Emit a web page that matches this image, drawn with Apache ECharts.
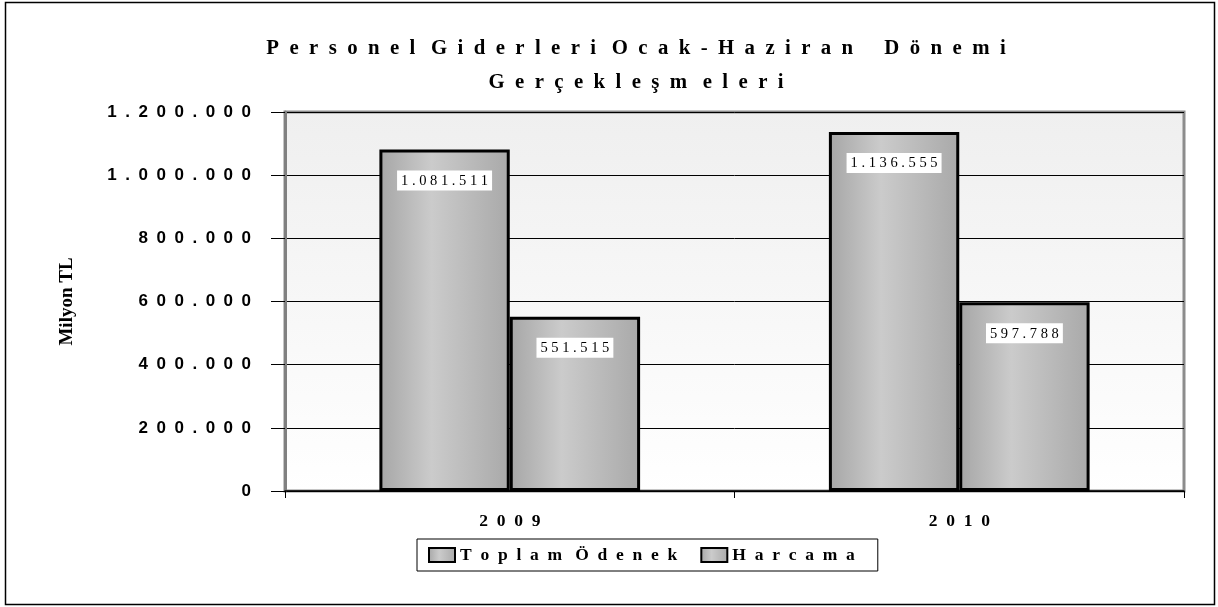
<!DOCTYPE html>
<html lang="tr">
<head>
    <meta charset="UTF-8">
    <title>Personel Giderleri</title>
    <script src="https://cdn.jsdelivr.net/npm/echarts@6/dist/echarts.min.js"></script>
</head>
<body style="margin:0; background:#fff">
<div id="main" style="width:1218px;height:607px"></div>
<script>
    // veriler
    const years = ['2009', '2010']
    const toplamOdenek = [1081511, 1136555]
    const harcama = [551515, 597788]
    const seriesNames = ['Toplam Ödenek', 'Harcama']
    const titleLines = ['Personel Giderleri Ocak-Haziran  Dönemi', 'Gerçekleşm eleri']

    // harfler arası boşluk (orijinaldeki gibi)
    function sp(s, gap, wordGap) {
        gap = gap || '\u2002'
        wordGap = wordGap === undefined ? gap + ' ' : wordGap
        return s.split(' ').map(w => w.split('').join(gap)).join(wordGap)
    }
    function trNum(v) {
        return String(v).replace(/\B(?=(\d{3})+(?!\d))/g, '.')
    }

    const serif = '"Liberation Serif", "Times New Roman", serif'
    const sans = '"Liberation Sans", Arial, sans-serif'

    const barFill = {
        type: 'linear', x: 0, y: 0, x2: 1, y2: 0,
        colorStops: [
            { offset: 0, color: '#a6a6a6' },
            { offset: 0.4, color: '#cbcbcb' },
            { offset: 1, color: '#a9a9a9' }
        ]
    }

    function makeSeries(name, data) {
        return {
            name: name,
            type: 'bar',
            data: data,
            barGap: '0%',
            barCategoryGap: '42%',
            itemStyle: { color: barFill, borderColor: '#000', borderWidth: 3 },
            label: {
                show: true,
                position: 'insideTop',
                distance: 21,
                formatter: p => sp(trNum(p.value), ' '),
                fontFamily: serif,
                fontSize: 14.5,
                color: '#000',
                backgroundColor: '#fff',
                padding: [3, 4, 2, 4]
            }
        }
    }

    let chart = echarts.init(document.getElementById('main'))
    chart.setOption({
        animation: false,
        backgroundColor: '#fff',
        title: {
            text: titleLines.map(t => sp(t, '\u2002', '\u2002 ')).join('\n'),
            left: 631,
            textAlign: 'center',
            top: 27,
            textStyle: {
                fontFamily: serif,
                fontWeight: 'bold',
                fontSize: 20.8,
                lineHeight: 34,
                color: '#000'
            }
        },
        legend: {
            bottom: 36,
            left: 417,
            icon: 'rect',
            itemWidth: 26,
            itemHeight: 14,
            itemGap: 23,
            padding: [7, 23, 7, 11],
            borderColor: '#000',
            borderWidth: 1,
            formatter: n => sp(n),
            textStyle: {
                fontFamily: serif,
                fontWeight: 'bold',
                fontSize: 17.5,
                color: '#000'
            },
            itemStyle: { borderColor: '#000', borderWidth: 2 }
        },
        graphic: [{
            type: 'rect',
            shape: { x: 5.5, y: 2.5, width: 1209, height: 602 },
            style: { fill: 'none', stroke: '#000', lineWidth: 1.5 },
            silent: true
        }],
        grid: {
            left: 285,
            right: 34,
            top: 112,
            bottom: 116,
            show: true,
            borderColor: '#8c8c8c',
            borderWidth: 3,
            backgroundColor: {
                type: 'linear', x: 0, y: 0, x2: 0, y2: 1,
                colorStops: [
                    { offset: 0, color: '#efefef' },
                    { offset: 1, color: '#ffffff' }
                ]
            }
        },
        xAxis: {
            type: 'category',
            data: years,
            axisLine: { lineStyle: { color: '#000', width: 1.5 } },
            axisTick: { show: true, length: 7, lineStyle: { color: '#000' } },
            axisLabel: {
                margin: 21,
                formatter: v => sp(v),
                fontFamily: serif,
                fontWeight: 'bold',
                fontSize: 17.5,
                color: '#000'
            }
        },
        yAxis: {
            type: 'value',
            min: 0,
            max: 1200000,
            interval: 200000,
            name: 'Milyon TL',
            nameLocation: 'middle',
            nameGap: 208,
            nameRotate: 90,
            nameTextStyle: {
                fontFamily: serif,
                fontWeight: 'bold',
                fontSize: 19,
                color: '#000'
            },
            axisLine: { show: true, lineStyle: { color: '#808080', width: 3 } },
            axisTick: { show: true, length: 14, lineStyle: { color: '#000' } },
            splitLine: { lineStyle: { color: '#000', width: 1 } },
            axisLabel: {
                margin: 34,
                formatter: v => sp(trNum(v)),
                fontFamily: sans,
                fontWeight: 'bold',
                fontSize: 17,
                color: '#000'
            }
        },
        series: [
            makeSeries(seriesNames[0], toplamOdenek),
            makeSeries(seriesNames[1], harcama)
        ]
    })
</script>
</body>
</html>
